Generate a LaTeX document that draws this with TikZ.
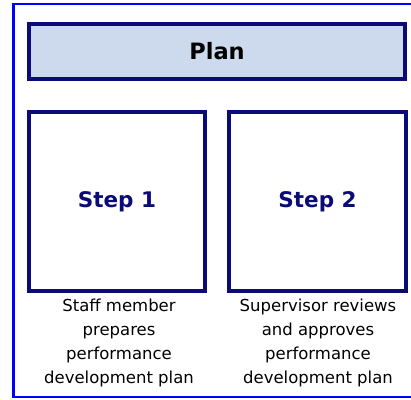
\documentclass[tikz,border=0pt]{standalone}
\usepackage{fontspec}
\setmainfont{DejaVu Sans}

\definecolor{navy}{HTML}{0A0A78}
\definecolor{planfill}{HTML}{CDDAEE}
\definecolor{framecol}{HTML}{0000FF}

\begin{document}
\begin{tikzpicture}[x = 1pt, y = -1pt,
	box/.style = {draw = navy, line width = 4pt, rectangle, inner sep = 0pt},
	steptext/.style = {font = \fontsize{21.5}{26}\selectfont\bfseries, text = navy},
	desc/.style = {font = \fontsize{16.5}{24}\selectfont, align = center, anchor = north, inner sep = 0pt}]

	% Canvas and frame
	
	\useasboundingbox (0, 0) rectangle (411, 399);
	\draw [framecol, line width = 2.2pt] (411, 4.3) -- (13.5, 4.3) -- (13.5, 397) -- (411, 397);
	
	% Plan header
	
	\node [box, fill = planfill, minimum width = 376pt, minimum height = 55pt,
		font = \fontsize{22.5}{26}\selectfont\bfseries] (plan) at (217, 51.5) {Plan};
	
	% Steps
	
	\node [box, minimum width = 176pt, minimum height = 179pt, steptext] (step1) at (117, 201.5) {Step 1};
	\node [box, minimum width = 177pt, minimum height = 179pt, steptext] (step2) at (317.5, 201.5) {Step 2};
	
	% Descriptions
	
	\node [desc] (desc1) at (119, 298.5) {Staff member\\prepares\\performance\\development plan};
	\node [desc] (desc2) at (318, 298.5) {Supervisor reviews\\and approves\\performance\\development plan};
	
\end{tikzpicture}
\end{document}
